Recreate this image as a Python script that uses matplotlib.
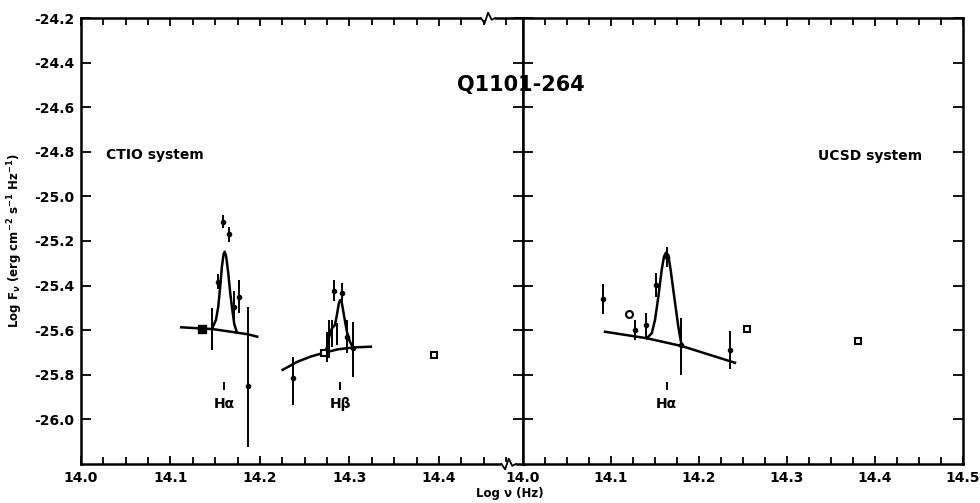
import numpy as np
import matplotlib
matplotlib.use("Agg")
import matplotlib.pyplot as plt
from matplotlib.ticker import MultipleLocator, FixedLocator

plt.rcParams["font.family"] = ["DejaVu Sans"]
plt.rcParams["font.weight"] = "bold"

# ---- CTIO system (left panel) ----
ctio_cont_x = [14.112, 14.134, 14.147, 14.171, 14.186, 14.197]
ctio_cont_y = [-25.587, -25.592, -25.595, -25.609, -25.618, -25.629]

ctio_ha_x = [14.1464, 14.1508, 14.1534, 14.1556, 14.1575, 14.1594, 14.1606,
             14.1623, 14.1646, 14.1668, 14.1691, 14.1713, 14.1743]
ctio_ha_y = [-25.594, -25.554, -25.495, -25.405, -25.315, -25.258, -25.248,
             -25.270, -25.345, -25.434, -25.509, -25.572, -25.611]

ctio_hb_cont_x = [14.2253, 14.2421, 14.2570, 14.2700, 14.2868, 14.3054, 14.3240]
ctio_hb_cont_y = [-25.778, -25.741, -25.718, -25.703, -25.686, -25.677, -25.674]

ctio_hb_x = [14.2726, 14.2749, 14.2774, 14.2804, 14.2838, 14.2860, 14.2883,
             14.2897, 14.2916, 14.2942, 14.2972, 14.3002, 14.3036]
ctio_hb_y = [-25.701, -25.677, -25.629, -25.592, -25.577, -25.532, -25.477,
             -25.465, -25.479, -25.540, -25.607, -25.648, -25.676]

# points with error bars
ctio_pts_x = [14.1464, 14.1583, 14.1650, 14.1534, 14.1710, 14.1770, 14.1866,
              14.2365, 14.2749, 14.2774, 14.2801, 14.2830, 14.2860, 14.2916, 14.2972, 14.3036]
ctio_pts_y = [-25.595, -25.113, -25.170, -25.382, -25.495, -25.450, -25.849,
              -25.816, -25.674, -25.639, -25.614, -25.423, -25.617, -25.435, -25.629, -25.681]
ctio_err_lo = [0.095, 0.030, 0.034, 0.035, 0.070, 0.075, 0.273,
               0.119, 0.067, 0.086, 0.060, 0.048, 0.048, 0.048, 0.075, 0.128]
ctio_err_hi = [0.095, 0.030, 0.034, 0.035, 0.070, 0.075, 0.354,
               0.097, 0.067, 0.086, 0.060, 0.048, 0.048, 0.048, 0.075, 0.119]
ctio_show_dot = [False, True, True, True, True, True, True,
                 True, False, False, False, True, False, True, True, True]

ctio_filled_sq = ([14.135], [-25.594])
ctio_open_sq = ([14.2715, 14.3948], [-25.700, -25.711])

# ---- UCSD system (right panel) ----
ucsd_cont_x = [14.0932, 14.1406, 14.1803, 14.2409]
ucsd_cont_y = [-25.607, -25.636, -25.671, -25.746]

ucsd_ha_x = [14.1406, 14.1463, 14.1500, 14.1538, 14.1576, 14.1602, 14.1625,
             14.1651, 14.1678, 14.1708, 14.1739, 14.1765, 14.1784, 14.1803]
ucsd_ha_y = [-25.636, -25.614, -25.554, -25.450, -25.330, -25.270, -25.252,
             -25.263, -25.330, -25.420, -25.509, -25.584, -25.629, -25.668]

ucsd_pts_x = [14.0913, 14.1273, 14.1398, 14.1508, 14.1640, 14.1792, 14.2352]
ucsd_pts_y = [-25.461, -25.599, -25.577, -25.397, -25.270, -25.666, -25.689]
ucsd_err_lo = [0.067, 0.045, 0.052, 0.052, 0.045, 0.135, 0.085]
ucsd_err_hi = [0.067, 0.045, 0.052, 0.052, 0.045, 0.119, 0.085]

ucsd_open_circ = ([14.1208], [-25.527])
ucsd_open_sq = ([14.2542, 14.3807], [-25.595, -25.648])

# line identifications: (panel, x, label)
line_ids = [("ctio", 14.160, "Hα"),
            ("ctio", 14.2897, "Hβ"),
            ("ucsd", 14.1633, "Hα")]

yticks = [-24.2, -24.4, -24.6, -24.8, -25.0, -25.2, -25.4, -25.6, -25.8, -26.0]

fig = plt.figure(figsize=(9.8, 5.03), dpi=100)
ax1 = fig.add_axes([81 / 980, 1 - 464 / 503, 442 / 980, 446 / 503])
ax2 = fig.add_axes([523 / 980, 1 - 464 / 503, 440 / 980, 446 / 503])

LW = 1.8
for ax in (ax1, ax2):
    ax.set_ylim(-26.2, -24.2)
    for s in ax.spines.values():
        s.set_linewidth(LW)
    ax.yaxis.set_major_locator(FixedLocator(yticks))
    ax.xaxis.set_major_locator(MultipleLocator(0.1))
    ax.xaxis.set_minor_locator(MultipleLocator(0.025))
    ax.tick_params(which="both", direction="in", top=True, right=True, width=1.3,
                   labelsize=10, pad=5)
    ax.tick_params(which="major", length=7)
    ax.tick_params(which="minor", length=5)
    ax.tick_params(axis="y", which="minor", left=False, right=False)

ax1.set_xlim(14.0, 14.494)
ax2.set_xlim(14.0, 14.5)
ax1.set_yticklabels([f"-{abs(v):.1f}" for v in yticks])
ax1.set_xticks([14.0, 14.1, 14.2, 14.3, 14.4])
ax1.set_xticklabels(["14.0", "14.1", "14.2", "14.3", "14.4"])
ax2.set_xticks([14.0, 14.1, 14.2, 14.3, 14.4, 14.5])
ax2.set_xticklabels(["14.0", "14.1", "14.2", "14.3", "14.4", "14.5"])
ax2.tick_params(labelleft=False)
ax1.tick_params(axis="x", which="major", length=6)
ax2.tick_params(axis="x", which="major", length=6)

# curves
ax1.plot(ctio_cont_x, ctio_cont_y, color="black", lw=LW)
ax1.plot(ctio_ha_x, ctio_ha_y, color="black", lw=LW)
ax1.plot(ctio_hb_cont_x, ctio_hb_cont_y, color="black", lw=LW)
ax1.plot(ctio_hb_x, ctio_hb_y, color="black", lw=LW)
ax2.plot(ucsd_cont_x, ucsd_cont_y, color="black", lw=LW)
ax2.plot(ucsd_ha_x, ucsd_ha_y, color="black", lw=LW)

# error bars
for x, y, lo, hi, dot in zip(ctio_pts_x, ctio_pts_y, ctio_err_lo, ctio_err_hi, ctio_show_dot):
    ax1.errorbar([x], [y], yerr=[[lo], [hi]], fmt="o" if dot else "none", ms=3,
                 color="black", elinewidth=1.4, capsize=0)
ax2.errorbar(ucsd_pts_x, ucsd_pts_y, yerr=[ucsd_err_lo, ucsd_err_hi], fmt="o", ms=3,
             color="black", elinewidth=1.4, capsize=0)

ax1.plot(*ctio_filled_sq, "s", color="black", ms=6)
ax1.plot(*ctio_open_sq, "s", mfc="white", mec="black", mew=1.5, ms=5)
ax2.plot(*ucsd_open_circ, "o", mfc="white", mec="black", mew=1.5, ms=5)
ax2.plot(*ucsd_open_sq, "s", mfc="white", mec="black", mew=1.5, ms=5)

# line identifications
for panel, x, lab in line_ids:
    ax = ax1 if panel == "ctio" else ax2
    ax.plot([x, x], [-25.835, -25.865], color="black", lw=1.4)
    ax.text(x, -25.93, lab, ha="center", va="center", fontsize=10, fontweight="bold")

ax1.text(14.028, -24.815, "CTIO system", ha="left", va="center", fontsize=10, fontweight="bold")
ax2.text(14.335, -24.82, "UCSD system", ha="left", va="center", fontsize=10, fontweight="bold")
fig.text(0.531, 0.831, "Q1101-264", ha="center", va="center", fontsize=15, fontweight="bold")

ax1.set_ylabel("Log F$_\\nu$ (erg cm$^{-2}$ s$^{-1}$ Hz$^{-1}$)", fontsize=8.5, fontweight="bold",
               labelpad=6)
fig.text(510 / 980, 1 - 493 / 503, "Log ν (Hz)", ha="center", va="center",
         fontsize=8.5, fontweight="bold")


def draw_break(ax, x, yax):
    # small zigzag break mark on a spine
    tr = ax.get_xaxis_transform()
    ax.plot([x - 0.006, x + 0.006], [yax, yax], color="white", lw=3, transform=tr,
            clip_on=False, zorder=5)
    zx = [x - 0.008, x - 0.004, x, x + 0.004, x + 0.008]
    zy = [yax, yax - 0.012, yax + 0.012, yax - 0.004, yax]
    ax.plot(zx, zy, color="black", lw=1.3, transform=tr, clip_on=False, zorder=6)


draw_break(ax1, 14.455, 1.0)
draw_break(ax1, 14.478, 0.0)

fig.savefig("out.png", dpi=100)
